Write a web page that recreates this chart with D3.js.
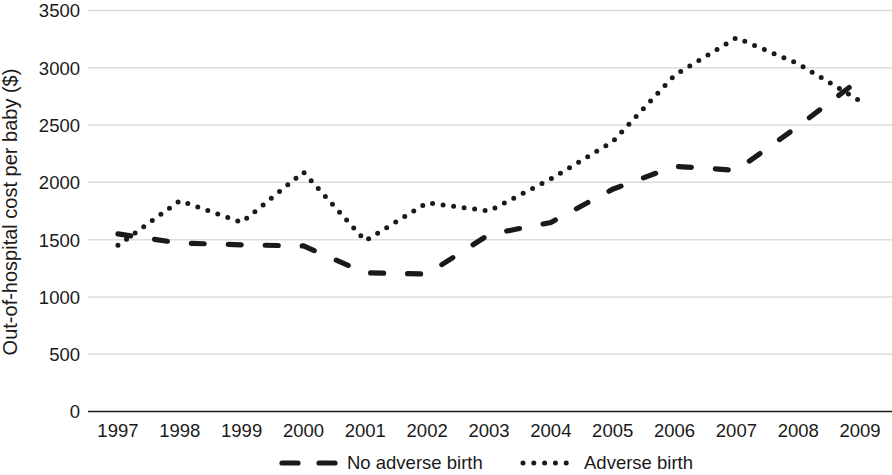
<!DOCTYPE html>
<html><head><meta charset="utf-8">
<script src="https://cdn.jsdelivr.net/npm/d3@7"></script>
<style>body{margin:0;background:#fff}svg{display:block}text{font-family:"Liberation Sans",Arial,Helvetica,sans-serif;fill:#1a1a1a}</style>
</head><body><svg id="c" width="892" height="475"></svg>
<script>
const years = ["1997","1998","1999","2000","2001","2002","2003","2004","2005","2006","2007","2008","2009"];
const noAdverse = [1550,1470,1455,1445,1210,1200,1545,1650,1940,2140,2105,2490,2900];
const adverse = [1450,1840,1650,2090,1490,1822,1750,2030,2355,2935,3262,3035,2710];
const yTicks = [0,500,1000,1500,2000,2500,3000,3500];
const seriesNames = ["No adverse birth","Adverse birth"];

const svg = d3.select("#c");
const x = d3.scaleBand().domain(years).range([87,891]);
const y = d3.scaleLinear().domain([0,3500]).range([411.5,10.5]);
const cx = d => x(d) + x.bandwidth()/2;

// gridlines
svg.append("g").selectAll("line").data(yTicks.filter(t=>t>0)).join("line")
  .attr("x1",88).attr("x2",892).attr("y1",d=>y(d)).attr("y2",d=>y(d))
  .attr("stroke","#dcdcdc").attr("stroke-width",1.5);

// y axis labels
const ya = svg.append("g").attr("transform","translate(80,0)")
  .call(d3.axisLeft(y).tickValues(yTicks).tickFormat(d3.format("d")).tickSize(0).tickPadding(0));
ya.select(".domain").remove();
ya.selectAll("text").attr("font-size",18.5).attr("dy","0.35em").style("font-family","Liberation Sans, Arial, sans-serif").attr("fill","#1a1a1a");

// x axis
const xa = svg.append("g").attr("transform","translate(0,411.5)")
  .call(d3.axisBottom(x).tickSize(0).tickPadding(12));
xa.select(".domain").attr("d","M88,0H892").attr("stroke","#1a1a1a").attr("stroke-width",1.6);
xa.selectAll("text").attr("font-size",18.5).attr("dy","0.71em").style("font-family","Liberation Sans, Arial, sans-serif").attr("fill","#1a1a1a");

// y title
svg.append("text").attr("transform","translate(17,212) rotate(-90)")
  .attr("text-anchor","middle").attr("font-size",20)
  .text("Out-of-hospital cost per baby ($)");

const line = d3.line().x((d,i)=>cx(years[i])).y(d=>y(d));

svg.append("path").datum(adverse).attr("d",line).attr("fill","none")
  .attr("stroke","#1a1a1a").attr("stroke-width",5).attr("stroke-linecap","round")
  .attr("stroke-dasharray","0,10.6");
svg.append("path").datum(noAdverse).attr("d",line).attr("fill","none")
  .attr("stroke","#1a1a1a").attr("stroke-width",5.2).attr("stroke-linecap","round")
  .attr("stroke-dasharray","13,24");

// legend
const lg = svg.append("g");
lg.append("line").attr("x1",282).attr("x2",336).attr("y1",463).attr("y2",463)
  .attr("stroke","#1a1a1a").attr("stroke-width",5.2).attr("stroke-linecap","round").attr("stroke-dasharray","16,21");
lg.append("text").attr("x",347).attr("y",469).attr("font-size",18.5).text(seriesNames[0]);
lg.append("line").attr("x1",523).attr("x2",577).attr("y1",463).attr("y2",463)
  .attr("stroke","#1a1a1a").attr("stroke-width",5).attr("stroke-linecap","round").attr("stroke-dasharray","0,10.8");
lg.append("text").attr("x",584).attr("y",469).attr("font-size",18.5).text(seriesNames[1]);
</script></body></html>
